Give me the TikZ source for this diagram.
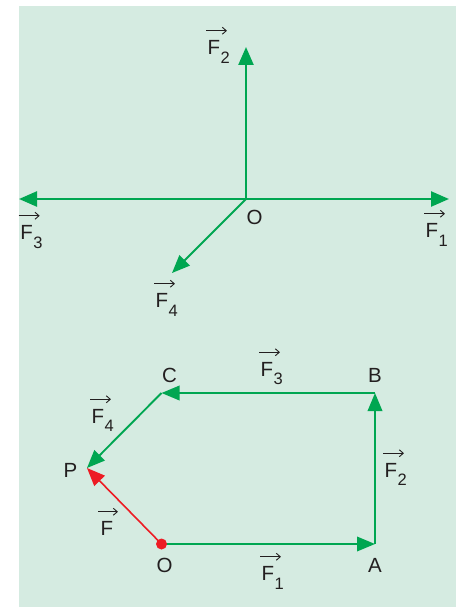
\documentclass[tikz,border=0pt]{standalone}
\usepackage{fontspec}
\setmainfont{Liberation Sans}
\usetikzlibrary{arrows.meta}
\definecolor{bgc}{RGB}{213,235,225}
\definecolor{grn}{RGB}{0,166,81}
\definecolor{rd}{RGB}{237,28,36}
\definecolor{ink}{RGB}{35,31,32}
\newcommand{\vlab}[3]{%
  \node[fl] (#1) at (#2) {F};
  \node[sub] (#1s) at ([yshift=3pt]#1.south east) {#3};
  \draw[varr] ([xshift=-1.5pt,yshift=9.5pt]#1.north west) -- ([xshift=6.5pt,yshift=9.5pt]#1.north east);
}
\begin{document}
\begin{tikzpicture}[x=1pt,y=-1pt,
  lbl/.style={inner sep=0pt, font=\fontsize{20.5}{22}\selectfont, text=ink},
  fl/.style={lbl},
  sub/.style={anchor=north west, inner sep=0pt, font=\fontsize{16.5}{18}\selectfont, text=ink},
  varr/.style={draw=ink, line width=0.9pt, -{Straight Barb[length=4pt,width=7pt,line width=0.9pt]}},
  vecg/.style={draw=grn, line width=2.4pt, -{Triangle[length=18pt,width=15pt]}},
  vecb/.style={draw=grn, line width=1.9pt, -{Triangle[length=18pt,width=14.5pt]}},
  vecr/.style={draw=rd, line width=1.6pt, -{Triangle[length=18pt,width=14.5pt]}}]
\useasboundingbox (0,0) rectangle (464,609);
\fill[bgc] (19,6) rectangle (456,607);
% top diagram
\coordinate (O1) at (246,199);
\coordinate (T2) at (246,47);
\coordinate (T1) at (449,199);
\coordinate (T3) at (19,199);
\coordinate (T4) at (172,273);
\draw[vecg] (O1) -- (T2);
\draw[vecg] (O1) -- (T1);
\draw[vecg] (O1) -- (T3);
\draw[vecb] (O1) -- (T4);
\vlab{lF2t}{214,47.5}{2}
\vlab{lF1t}{432,230.5}{1}
\vlab{lF3t}{26.7,232.5}{3}
\vlab{lF4t}{162,300.5}{4}
\node[lbl] (lOt) at (254.5,217) {O};
% bottom diagram
\coordinate (O) at (161.5,544);
\coordinate (A) at (375,544);
\coordinate (B) at (375,393);
\coordinate (C) at (161.5,393);
\coordinate (P) at (87,468);
\draw[vecb] (O) -- (A);
\draw[vecb] (A) -- (B);
\draw[vecb] (B) -- (C);
\draw[vecb] (C) -- (P);
\draw[vecr] (O) -- (P);
\fill[rd] (O) circle (5.5pt);
\node[lbl] (lC) at (169.5,375.5) {C};
\node[lbl] (lB) at (375,375.5) {B};
\node[lbl] (lP) at (70.5,470) {P};
\node[lbl] (lO) at (164.5,565.5) {O};
\node[lbl] (lA) at (375,565.5) {A};
\vlab{lF3}{267,369}{3}
\vlab{lF4}{98,416}{4}
\vlab{lF2}{391,470}{2}
\vlab{lF1}{268,573.5}{1}
\node[fl] (lF) at (107,528.5) {F};
\draw[varr] ([xshift=-2.5pt,yshift=9.5pt]lF.north west) -- ([xshift=4.5pt,yshift=9.5pt]lF.north east);
\end{tikzpicture}
\end{document}
